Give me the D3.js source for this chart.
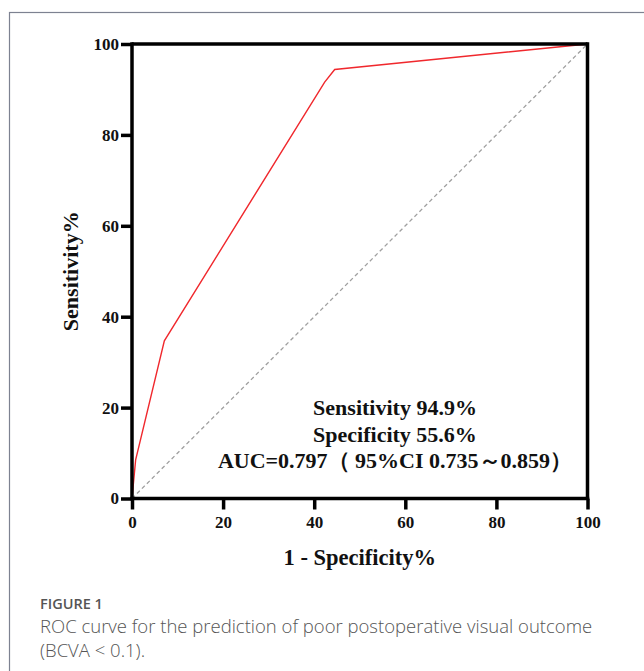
<!doctype html>
<html>
<head>
<meta charset="utf-8">
<script src="https://cdn.jsdelivr.net/npm/d3@7"></script>
<style>
  body { margin: 0; background: #fff; }
  .tick text { font-family: 'Liberation Serif', 'Times New Roman', serif; font-weight: bold; font-size: 17px; fill: #111; }
  .ttl { font-family: 'Liberation Serif', 'Times New Roman', serif; font-weight: bold; fill: #111; }
  .cap { font-family: 'Open Sans', sans-serif; fill: #555; }
</style>
</head>
<body>
<script>
// ROC points (1 - specificity %, sensitivity %)
var fpr = [0, 0.8, 7.1, 42.3, 44.5, 100];
var tpr = [0, 8.5, 34.7, 91.6, 94.4, 100];
var ticks = [0, 20, 40, 60, 80, 100];
var notes = ["Sensitivity 94.9%", "Specificity 55.6%", "AUC=0.797（ 95%CI 0.735～0.859）"];
var caption = ["ROC curve for the prediction of poor postoperative visual outcome", "(BCVA < 0.1)."];

var W = 644, H = 671;
var svg = d3.select("body").append("svg").attr("width", W).attr("height", H);

// card border (left + top visible)
svg.append("rect")
  .attr("x", 9.5).attr("y", 12.5).attr("width", 700).attr("height", 700)
  .attr("fill", "none").attr("stroke", "#7d8291").attr("stroke-width", 1.2);

var x = d3.scaleLinear().domain([0, 100]).range([132, 587.5]);
var y = d3.scaleLinear().domain([0, 100]).range([498.5, 44]);

// diagonal reference
svg.append("line")
  .attr("x1", x(0)).attr("y1", y(0)).attr("x2", x(100)).attr("y2", y(100))
  .attr("stroke", "#a0a0a0").attr("stroke-width", 1.3).attr("stroke-dasharray", "4,3");

// ROC curve
var pts = fpr.map(function(d, i) { return [d, tpr[i]]; });
svg.append("path")
  .datum(pts)
  .attr("d", d3.line().x(function(d) { return x(d[0]); }).y(function(d) { return y(d[1]); }))
  .attr("fill", "none").attr("stroke", "#f0282d").attr("stroke-width", 1.4);

// frame top + right
svg.append("line").attr("x1", x(0)).attr("x2", x(100)).attr("y1", y(100)).attr("y2", y(100))
  .attr("stroke", "#000").attr("stroke-width", 3.5);
svg.append("line").attr("x1", x(100)).attr("x2", x(100)).attr("y1", y(100) - 1.7).attr("y2", y(0))
  .attr("stroke", "#000").attr("stroke-width", 3.5);

var xa = svg.append("g").attr("transform", "translate(0," + y(0) + ")")
  .call(d3.axisBottom(x).tickValues(ticks).tickSize(11).tickSizeOuter(0).tickPadding(6));
var ya = svg.append("g").attr("transform", "translate(" + x(0) + ",0)")
  .call(d3.axisLeft(y).tickValues(ticks).tickSize(11).tickSizeOuter(0).tickPadding(2));
[xa, ya].forEach(function(a) {
  a.select(".domain").attr("stroke", "#000").attr("stroke-width", 3.5);
  a.selectAll(".tick line").attr("stroke", "#000").attr("stroke-width", 3.5);
});
xa.select(".domain").attr("d", "M" + (x(0) - 1.7) + ",0H" + (x(100) + 1.7));
ya.select(".domain").attr("d", "M0," + (y(0) + 1.7) + "V" + (y(100) - 1.7));

// axis titles
svg.append("text").attr("class", "ttl").attr("x", x(50)).attr("y", 565)
  .attr("text-anchor", "middle").attr("font-size", "22.5px").text("1 - Specificity%");
svg.append("text").attr("class", "ttl").attr("transform", "translate(78," + y(50) + ") rotate(-90)")
  .attr("text-anchor", "middle").attr("font-size", "22px").text("Sensitivity%");

// annotation
svg.selectAll(".note").data(notes).enter().append("text")
  .attr("class", "ttl note")
  .attr("x", 395).attr("y", function(d, i) { return 415 + i * 26.5; })
  .attr("text-anchor", "middle").attr("font-size", "22px")
  .text(function(d) { return d; });

// caption
svg.append("text").attr("class", "cap").attr("x", 40).attr("y", 609)
  .attr("font-size", "14.5px").attr("font-weight", 600).text("FIGURE 1");
svg.selectAll(".capline").data(caption).enter().append("text")
  .attr("class", "cap capline").attr("x", 40).attr("y", function(d, i) { return 633 + i * 24; })
  .attr("font-size", "18.5px").attr("font-weight", 300).text(function(d) { return d; });
</script>
</body>
</html>
